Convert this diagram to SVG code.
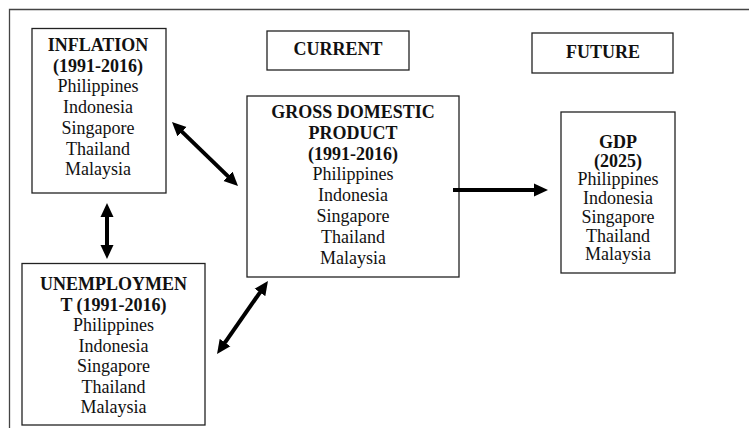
<svg xmlns="http://www.w3.org/2000/svg" width="749" height="428" viewBox="0 0 749 428">
<style>
.box{fill:#fff;stroke:#222;stroke-width:1.3}
.t{font-family:"Liberation Serif","Times New Roman",serif;font-size:18px;fill:#111;text-anchor:middle}
.b{font-weight:bold}
.frame{fill:none;stroke:#444;stroke-width:1.3}
.arr{stroke:#000;stroke-width:4;fill:none}
</style>
<defs>
<marker id="ah" markerUnits="userSpaceOnUse" markerWidth="14" markerHeight="14" refX="2" refY="6.5" orient="auto-start-reverse" viewBox="0 0 14 13">
<path d="M0,0 L14,6.5 L0,13 z" fill="#000"/>
</marker>
</defs>
<path class="frame" d="M9.5,428 L9.5,9.5 L749,9.5"/>
<g id="inflation">
<rect class="box" x="32" y="28.5" width="134" height="164.5"/>
<text class="t b" x="98" y="51">INFLATION</text>
<text class="t b" x="98" y="71.7">(1991-2016)</text>
<text class="t" x="98" y="92.4">Philippines</text>
<text class="t" x="98" y="113.1">Indonesia</text>
<text class="t" x="98" y="133.8">Singapore</text>
<text class="t" x="98" y="154.5">Thailand</text>
<text class="t" x="98" y="175.2">Malaysia</text>
</g>
<g id="current">
<rect class="box" x="267" y="31" width="142" height="39"/>
<text class="t b" x="338" y="55">CURRENT</text>
</g>
<g id="future">
<rect class="box" x="532" y="33" width="141" height="40"/>
<text class="t b" x="603" y="57.5">FUTURE</text>
</g>
<g id="gdp">
<rect class="box" x="247" y="96" width="212" height="181"/>
<text class="t b" x="353" y="118">GROSS DOMESTIC</text>
<text class="t b" x="353" y="138.8">PRODUCT</text>
<text class="t b" x="353" y="159.6">(1991-2016)</text>
<text class="t" x="353" y="180.4">Philippines</text>
<text class="t" x="353" y="201.2">Indonesia</text>
<text class="t" x="353" y="222">Singapore</text>
<text class="t" x="353" y="242.8">Thailand</text>
<text class="t" x="353" y="263.6">Malaysia</text>
</g>
<g id="gdp2025">
<rect class="box" x="561" y="112" width="114" height="161"/>
<text class="t b" x="618" y="148">GDP</text>
<text class="t b" x="618" y="166.7">(2025)</text>
<text class="t" x="618" y="185.4">Philippines</text>
<text class="t" x="618" y="204.1">Indonesia</text>
<text class="t" x="618" y="222.8">Singapore</text>
<text class="t" x="618" y="241.5">Thailand</text>
<text class="t" x="618" y="260.2">Malaysia</text>
</g>
<g id="unemployment">
<rect class="box" x="22" y="263.5" width="183" height="161.5"/>
<text class="t b" x="113.5" y="290">UNEMPLOYMEN</text>
<text class="t b" x="113.5" y="310.5">T (1991-2016)</text>
<text class="t" x="113.5" y="331">Philippines</text>
<text class="t" x="113.5" y="351.5">Indonesia</text>
<text class="t" x="113.5" y="372">Singapore</text>
<text class="t" x="113.5" y="392.5">Thailand</text>
<text class="t" x="113.5" y="413">Malaysia</text>
</g>
<g id="connectors">
<line class="arr" x1="180.6" y1="130.4" x2="229.4" y2="177.6" marker-start="url(#ah)" marker-end="url(#ah)"/>
<line class="arr" x1="107" y1="215" x2="107" y2="247" marker-start="url(#ah)" marker-end="url(#ah)"/>
<line class="arr" x1="223.9" y1="344.2" x2="261.1" y2="290.8" marker-start="url(#ah)" marker-end="url(#ah)"/>
<line class="arr" x1="453" y1="190" x2="536" y2="190" marker-end="url(#ah)"/>
</g>
</svg>
